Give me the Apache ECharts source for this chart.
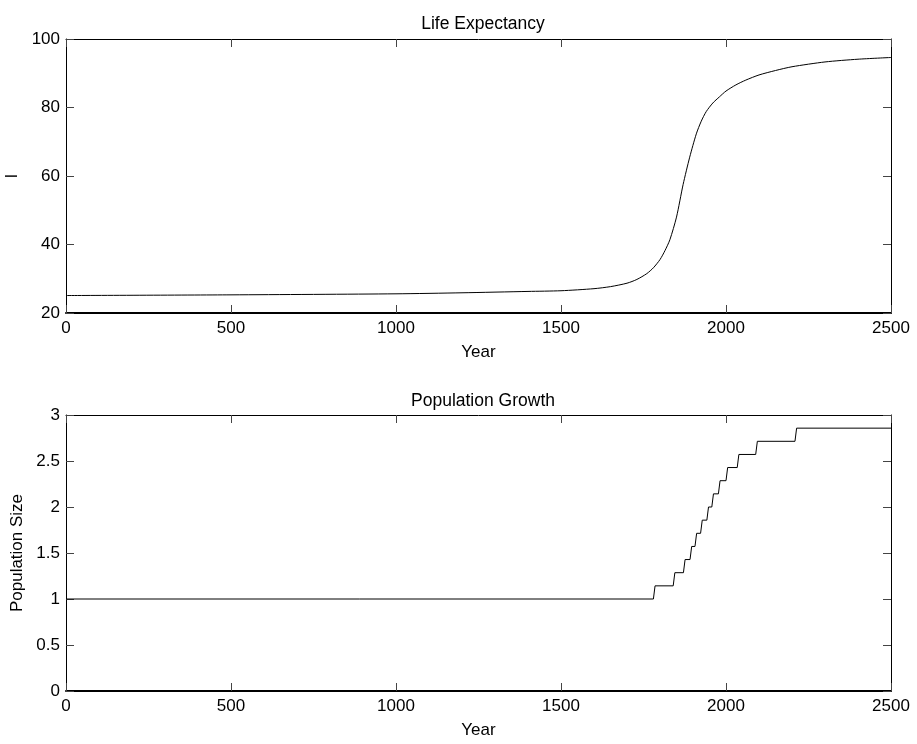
<!DOCTYPE html>
<html>
<head>
<meta charset="utf-8">
<script src="https://cdn.jsdelivr.net/npm/echarts@6/dist/echarts.min.js"></script>
<style>
  html, body { margin: 0; padding: 0; background: #fff; }
  #main { width: 917px; height: 744px; }
</style>
</head>
<body>
<div id="main"></div>
<script>
// life expectancy curve
var lifeYears = [0, 500, 1000, 1200, 1400, 1500, 1600, 1650, 1700, 1730, 1760, 1780, 1800, 1815, 1830, 1850, 1870, 1890, 1910, 1925, 1940, 1960, 1980, 2000, 2030, 2060, 2100, 2150, 2200, 2300, 2400, 2500];
var lifeValues = [25.1, 25.3, 25.6, 25.9, 26.3, 26.5, 27.1, 27.7, 28.7, 29.8, 31.5, 33.2, 35.6, 38.2, 41.4, 48.0, 57.5, 65.5, 72.3, 76.0, 78.8, 81.3, 83.1, 84.8, 86.6, 88.0, 89.5, 90.8, 91.9, 93.3, 94.1, 94.6];

// population steps: year of each jump and the level after it
var stepYears = [1780, 1840, 1871, 1891, 1906, 1923, 1942, 1957, 1977, 2000, 2034, 2090, 2209];
var stepLevels = [1.143, 1.286, 1.429, 1.571, 1.714, 1.857, 2.0, 2.143, 2.286, 2.429, 2.571, 2.714, 2.857];
var popStart = 1;
var yearMin = 0, yearMax = 2500;

var lifeData = lifeYears.map(function (y, i) { return [y, lifeValues[i]]; });

var popData = [[yearMin, popStart]];
var prev = popStart;
for (var i = 0; i < stepYears.length; i++) {
    popData.push([stepYears[i], prev]);
    popData.push([stepYears[i] + 5, stepLevels[i]]);
    prev = stepLevels[i];
}
popData.push([yearMax, prev]);

var FONT = 'Liberation Sans, Arial, sans-serif';
var nameStyle = { color: '#000', fontSize: 17, fontFamily: FONT };

function plain(v) { return String(v); }

function xAx(grid, pos, showLabels) {
    return {
        type: 'value', gridIndex: grid, position: pos,
        min: yearMin, max: yearMax, interval: 500,
        name: showLabels ? 'Year' : '', nameLocation: 'middle', nameGap: 31,
        nameTextStyle: nameStyle,
        axisLine: { show: true, onZero: false, lineStyle: { color: '#000', width: pos === 'bottom' ? 2 : 1 } },
        axisTick: { show: true, inside: true, length: 8, lineStyle: { color: '#444' } },
        axisLabel: { show: showLabels, margin: 7, color: '#000', fontSize: 17, fontFamily: FONT, formatter: plain },
        splitLine: { show: false }
    };
}
function yAx(grid, pos, min, max, interval, name, showLabels) {
    return {
        type: 'value', gridIndex: grid, position: pos,
        min: min, max: max, interval: interval,
        name: showLabels ? name : '', nameLocation: 'middle', nameGap: 38,
        nameTextStyle: nameStyle,
        axisLine: { show: true, onZero: false, lineStyle: { color: '#000', width: 1 } },
        axisTick: { show: true, inside: true, length: 8, lineStyle: { color: '#444' } },
        axisLabel: { show: showLabels, margin: 6, color: '#000', fontSize: 17, fontFamily: FONT, formatter: plain },
        splitLine: { show: false }
    };
}

var chart = echarts.init(document.getElementById('main'), null, { renderer: 'canvas' });
chart.setOption({
    backgroundColor: '#fff',
    animation: false,
    title: [
        { text: 'Life Expectancy', left: 478, top: 10, textAlign: 'center',
          textStyle: { color: '#000', fontSize: 17.5, fontWeight: 'normal', fontFamily: FONT } },
        { text: 'Population Growth', left: 478, top: 387, textAlign: 'center',
          textStyle: { color: '#000', fontSize: 17.5, fontWeight: 'normal', fontFamily: FONT } }
    ],
    grid: [
        { left: 66, width: 825, top: 39, height: 274, containLabel: false, outerBoundsMode: 'none' },
        { left: 66, width: 825, top: 415, height: 276, containLabel: false, outerBoundsMode: 'none' }
    ],
    xAxis: [
        xAx(0, 'bottom', true),
        xAx(0, 'top', false),
        xAx(1, 'bottom', true),
        xAx(1, 'top', false)
    ],
    yAxis: [
        yAx(0, 'left', 20, 100, 20, 'l', true),
        yAx(0, 'right', 20, 100, 20, '', false),
        yAx(1, 'left', 0, 3, 0.5, 'Population Size', true),
        yAx(1, 'right', 0, 3, 0.5, '', false)
    ],
    series: [
        {
            type: 'line', xAxisIndex: 0, yAxisIndex: 0,
            data: lifeData, showSymbol: false, smooth: 0.25,
            lineStyle: { color: '#000', width: 1 }
        },
        {
            type: 'line', xAxisIndex: 2, yAxisIndex: 2,
            data: popData, showSymbol: false,
            lineStyle: { color: '#000', width: 1 }
        }
    ]
});
</script>
</body>
</html>
